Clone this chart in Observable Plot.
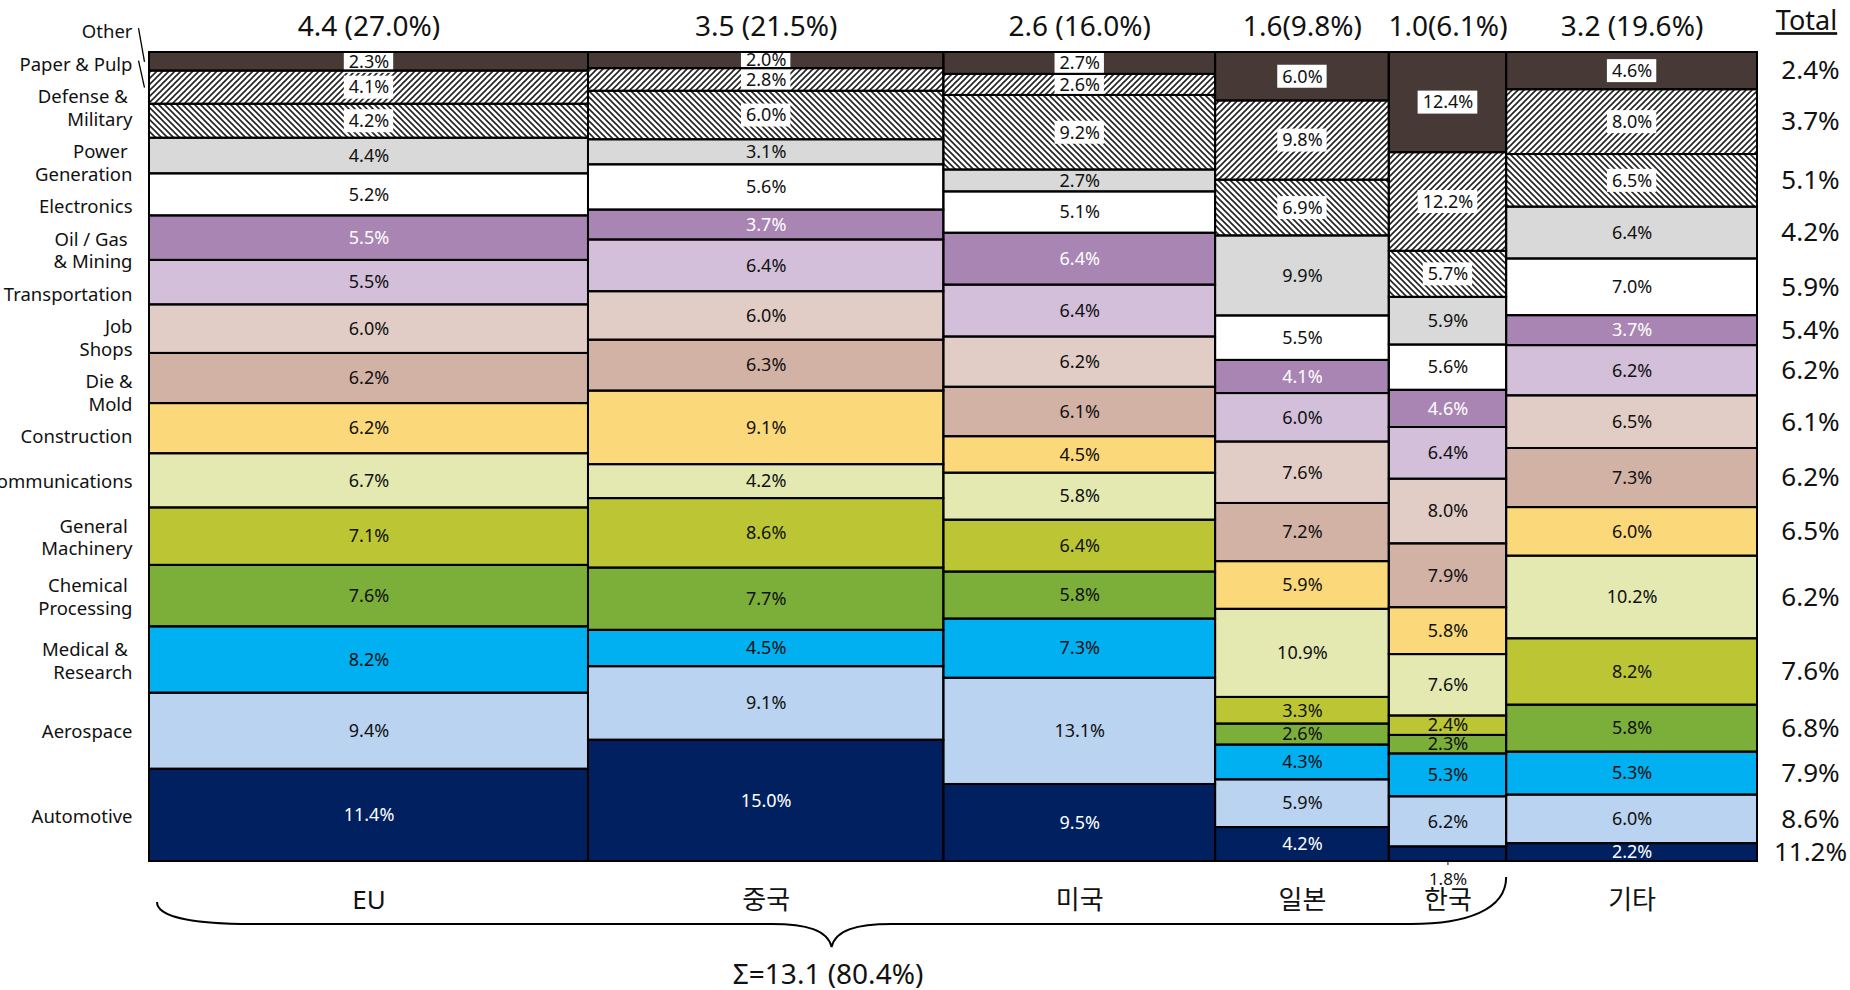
<!DOCTYPE html>
<html><head><meta charset="utf-8">
<script src="https://cdn.jsdelivr.net/npm/d3@7"></script>
<script src="https://cdn.jsdelivr.net/npm/@observablehq/plot@0.6"></script>
<style>
html,body{margin:0;padding:0;background:#fff;}
#chart svg text{font-family:"Noto Sans","Noto Sans CJK KR",sans-serif;}
</style>
</head><body><div id="chart"></div>
<script>
// ---------------- data ----------------
const regions = ["EU", "중국", "미국", "일본", "한국", "기타"];
const volume = [4.4, 3.5, 2.6, 1.6, 1.0, 3.2];
const share = [27.0, 21.5, 16.0, 9.8, 6.1, 19.6];
const topLabels = ["4.4 (27.0%)", "3.5 (21.5%)", "2.6 (16.0%)", "1.6(9.8%)", "1.0(6.1%)", "3.2 (19.6%)"];
// column widths as drawn in the source chart (% of the axis)
const drawnWidth = [27.3, 22.1, 16.9, 10.8, 7.3, 15.6];

// industries, bottom to top
const industries = ["Automotive", "Aerospace", "Medical & Research", "Chemical Processing", "General Machinery",
  "Communications", "Construction", "Die & Mold", "Job Shops", "Transportation", "Oil / Gas & Mining",
  "Electronics", "Power Generation", "Defense & Military", "Paper & Pulp", "Other"];
const industryLabels = ["Automotive", "Aerospace", "Medical &\u00a0\nResearch", "Chemical\u00a0\nProcessing", "General\u00a0\nMachinery",
  "Communications", "Construction", "Die &\nMold", "Job\nShops", "Transportation", "Oil / Gas\u00a0\n& Mining",
  "Electronics", "Power\u00a0\nGeneration", "Defense &\u00a0\nMilitary", "Paper & Pulp", "Other"];

const eu     = [11.4, 9.4, 8.2, 7.6, 7.1, 6.7, 6.2, 6.2, 6.0, 5.5, 5.5, 5.2, 4.4, 4.2, 4.1, 2.3];
const china  = [15.0, 9.1, 4.5, 7.7, 8.6, 4.2, 9.1, 6.3, 6.0, 6.4, 3.7, 5.6, 3.1, 6.0, 2.8, 2.0];
const usa    = [9.5, 13.1, 7.3, 5.8, 6.4, 5.8, 4.5, 6.1, 6.2, 6.4, 6.4, 5.1, 2.7, 9.2, 2.6, 2.7];
const japan  = [4.2, 5.9, 4.3, 2.6, 3.3, 10.9, 5.9, 7.2, 7.6, 6.0, 4.1, 5.5, 9.9, 6.9, 9.8, 6.0];
const korea  = [1.8, 6.2, 5.3, 2.3, 2.4, 7.6, 5.8, 7.9, 8.0, 6.4, 4.6, 5.6, 5.9, 5.7, 12.2, 12.4];
const others = [2.2, 6.0, 5.3, 5.8, 8.2, 10.2, 6.0, 7.3, 6.5, 6.2, 3.7, 7.0, 6.4, 6.5, 8.0, 4.6];
const totalShare = [11.2, 8.6, 7.9, 6.8, 7.6, 6.2, 6.5, 6.2, 6.1, 6.2, 5.4, 5.9, 4.2, 5.1, 3.7, 2.4];

// ---------------- styles ----------------
const industryColors = ["#002060", "#B9D3F0", "#00B0F0", "#7CAE3A", "#BCC634", "#E3E9B1", "#FBD97B", "#D3B2A6",
  "#E2CDC6", "#D3BFDA", "#A985B3", "#FFFFFF", "#D9D9D9", "url(#hatchBack)", "url(#hatchFwd)", "#473A36"];
const whiteText = new Set(["Automotive", "Oil / Gas & Mining"]);
const boxedText = new Set(["Defense & Military", "Paper & Pulp", "Other"]);
const FONT = '"Noto Sans","Noto Sans CJK KR",sans-serif';
const SEG_FONT = 18;

const W = 1850, H = 990;
const M = {top: 52, right: 93, bottom: 129, left: 149};
const plotW = W - M.left - M.right, plotH = H - M.top - M.bottom;
const ux = 100 / plotW, uy = 100 / plotH; // data units per pixel

// ---------------- derived tables ----------------
const fmt = v => v.toFixed(1) + "%";
const mix = [eu, china, usa, japan, korea, others];
let acc = 0;
const cols = regions.map((r, i) => {
  const c = {region: r, x1: acc, x2: acc + drawnWidth[i], xm: acc + drawnWidth[i] / 2, top: topLabels[i]};
  acc += drawnWidth[i];
  return c;
});
const segs = [];
cols.forEach((c, i) => {
  const vals = mix[i], tot = d3.sum(vals);
  let y = 0;
  vals.forEach((v, j) => {
    const h = v / tot * 100;
    segs.push({region: c.region, col: i, j, industry: industries[j], value: v,
      x1: c.x1, x2: c.x2, xm: c.xm, y1: y, y2: y + h, ym: y + h / 2});
    y += h;
  });
});
const inside = segs.filter(s => s.value >= 2);
const outside = segs.filter(s => s.value < 2);

// white label boxes sized from the measured label text
const ctx = document.createElement("canvas").getContext("2d");
ctx.font = `${SEG_FONT}px ${FONT}`;
const boxes = inside.filter(s => boxedText.has(s.industry)).map(s => {
  const hw = (ctx.measureText(fmt(s.value)).width + 9) / 2;
  return {bx1: s.xm - hw * ux, bx2: s.xm + hw * ux, by1: s.ym - 11.5 * uy, by2: s.ym + 11.5 * uy};
});

// left labels: stacked without overlap around the EU segment centres (isotonic fit)
const euSegs = segs.filter(s => s.col === 0).slice().reverse(); // top -> bottom
const items = euSegs.map(s => {
  const label = industryLabels[s.j];
  const lines = label.split("\n").length;
  return {label, lines, seg: (100 - s.ym) / uy, ym: s.ym, h: lines * 22.5 + 10};
});
let off = 0;
items.forEach((d, i) => { if (i > 0) off += (items[i - 1].h + d.h) / 2; d.off = off; });
(function pava() {
  const blocks = [];
  items.forEach(d => {
    blocks.push({sum: d.seg - d.off, n: 1});
    while (blocks.length > 1 && blocks[blocks.length - 2].sum / blocks[blocks.length - 2].n > blocks[blocks.length - 1].sum / blocks[blocks.length - 1].n) {
      const b = blocks.pop(); blocks[blocks.length - 1].sum += b.sum; blocks[blocks.length - 1].n += b.n;
    }
  });
  let k = 0;
  blocks.forEach(b => { for (let t = 0; t < b.n; t++) { items[k].pos = b.sum / b.n + items[k].off; k++; } });
})();
items.forEach(d => { d.y = 100 - d.pos * uy; });
const leaders = items.filter(d => Math.abs(d.pos - d.seg) > 20);

const braceFrom = 0, braceTo = 4;
const sigmaText = `Σ=${d3.sum(volume.slice(braceFrom, braceTo + 1)).toFixed(1)} (${d3.sum(share.slice(braceFrom, braceTo + 1)).toFixed(1)}%)`;
const braceMid = (cols[braceFrom].x1 + cols[braceTo].x2) / 2;
const lastCol = segs.filter(s => s.col === cols.length - 1);

// brace drawn through the x scale
function brace(index, scales, values, dims) {
  const xL = scales.x(cols[braceFrom].x1) + 8, xR = scales.x(cols[braceTo].x2);
  const yb = dims.height - dims.marginBottom;
  const yLine = yb + 63, yL = yb + 41, yR = yb + 16, yTip = yb + 86;
  const xm = (xL + xR) / 2;
  const d = `M${xL},${yL} C${xL},${yLine - 6} ${xL + 40},${yLine} ${xL + 95},${yLine}`
    + ` L${xm - 60},${yLine} C${xm - 25},${yLine} ${xm - 4},${yLine + 6} ${xm},${yTip}`
    + ` C${xm + 4},${yLine + 6} ${xm + 25},${yLine} ${xm + 60},${yLine}`
    + ` L${xR - 95},${yLine} C${xR - 40},${yLine} ${xR},${yLine - 14} ${xR},${yR}`;
  return d3.create("svg:path").attr("d", d).attr("fill", "none").attr("stroke", "#000").attr("stroke-width", 2).node();
}

const chart = Plot.plot({
  width: W, height: H,
  marginTop: M.top, marginRight: M.right, marginBottom: M.bottom, marginLeft: M.left,
  x: {domain: [0, 100], axis: null},
  y: {domain: [0, 100], axis: null},
  color: {type: "identity"},
  style: {fontFamily: FONT, background: "#fff", overflow: "visible"},
  marks: [
    Plot.rect(segs, {x1: "x1", x2: "x2", y1: "y1", y2: "y2", fill: d => industryColors[d.j]}),
    Plot.rect(boxes, {x1: "bx1", x2: "bx2", y1: "by1", y2: "by2", fill: "#fff"}),
    Plot.text(inside, {
      x: "xm", y: "ym", text: d => fmt(d.value), fontSize: SEG_FONT,
      fill: d => whiteText.has(d.industry) ? "#FFFFFF" : "#111111", lineAnchor: "middle"}),
    Plot.rect(segs, {x1: "x1", x2: "x2", y1: "y1", y2: "y2", fill: "none", stroke: "#000", strokeWidth: 2}),
    // small segment label below the bar
    Plot.ruleX(outside, {x: "xm", y1: () => 0, y2: () => -4 * uy, stroke: "#000", strokeWidth: 1}),
    Plot.text(outside, {x: "xm", y: () => 0, text: d => fmt(d.value), dy: 18, fontSize: 17, fill: "#111", lineAnchor: "middle"}),
    // left industry labels
    Plot.text(items, {x: () => 0, y: "y", text: "label", dx: -17, textAnchor: "end", lineAnchor: "middle",
      fontSize: 18.5, lineHeight: 1.216, fill: "#111"}),
    Plot.link(leaders, {x1: () => -11 * ux, y1: d => d.y + 3 * uy, x2: () => -5 * ux, y2: "ym", stroke: "#000", strokeWidth: 1.3}),
    // top volume labels
    Plot.text(cols, {x: "xm", y: () => 100, text: "top", dy: -25, fontSize: 28, fill: "#111", lineAnchor: "middle"}),
    // Total column
    Plot.text(["Total"], {x: () => 100, y: () => 100, text: d => d, dx: 49, dy: -31, fontSize: 27, fill: "#111", lineAnchor: "middle"}),
    Plot.text(lastCol, {x: () => 100, y: "ym", text: d => fmt(totalShare[d.j]), dx: 53, fontSize: 26, fill: "#111", lineAnchor: "middle"}),
    // region labels
    Plot.text(cols, {x: "xm", y: () => 0, text: "region", dy: 39, fontSize: 26, fill: "#111", lineAnchor: "middle"}),
    brace,
    Plot.text([sigmaText], {x: () => braceMid, y: () => 0, text: d => d, dy: 114, fontSize: 28, fill: "#111", lineAnchor: "middle"})
  ]
});

document.getElementById("chart").appendChild(chart);

// hatch patterns
const svg = d3.select(chart);
svg.insert("defs", ":first-child").html(`
  <pattern id="hatchFwd" patternUnits="userSpaceOnUse" width="6" height="6">
    <rect width="6" height="6" fill="#fff"/>
    <path d="M-1.5,1.5 L1.5,-1.5 M0,6 L6,0 M4.5,7.5 L7.5,4.5" stroke="#222" stroke-width="1.6"/>
  </pattern>
  <pattern id="hatchBack" patternUnits="userSpaceOnUse" width="6" height="6">
    <rect width="6" height="6" fill="#fff"/>
    <path d="M-1.5,4.5 L1.5,7.5 M0,0 L6,6 M4.5,-1.5 L7.5,1.5" stroke="#222" stroke-width="1.6"/>
  </pattern>`);

// underline the "Total" heading
svg.selectAll("text").filter(function () { return this.textContent === "Total"; }).attr("text-decoration", "underline");
</script>
</body></html>
